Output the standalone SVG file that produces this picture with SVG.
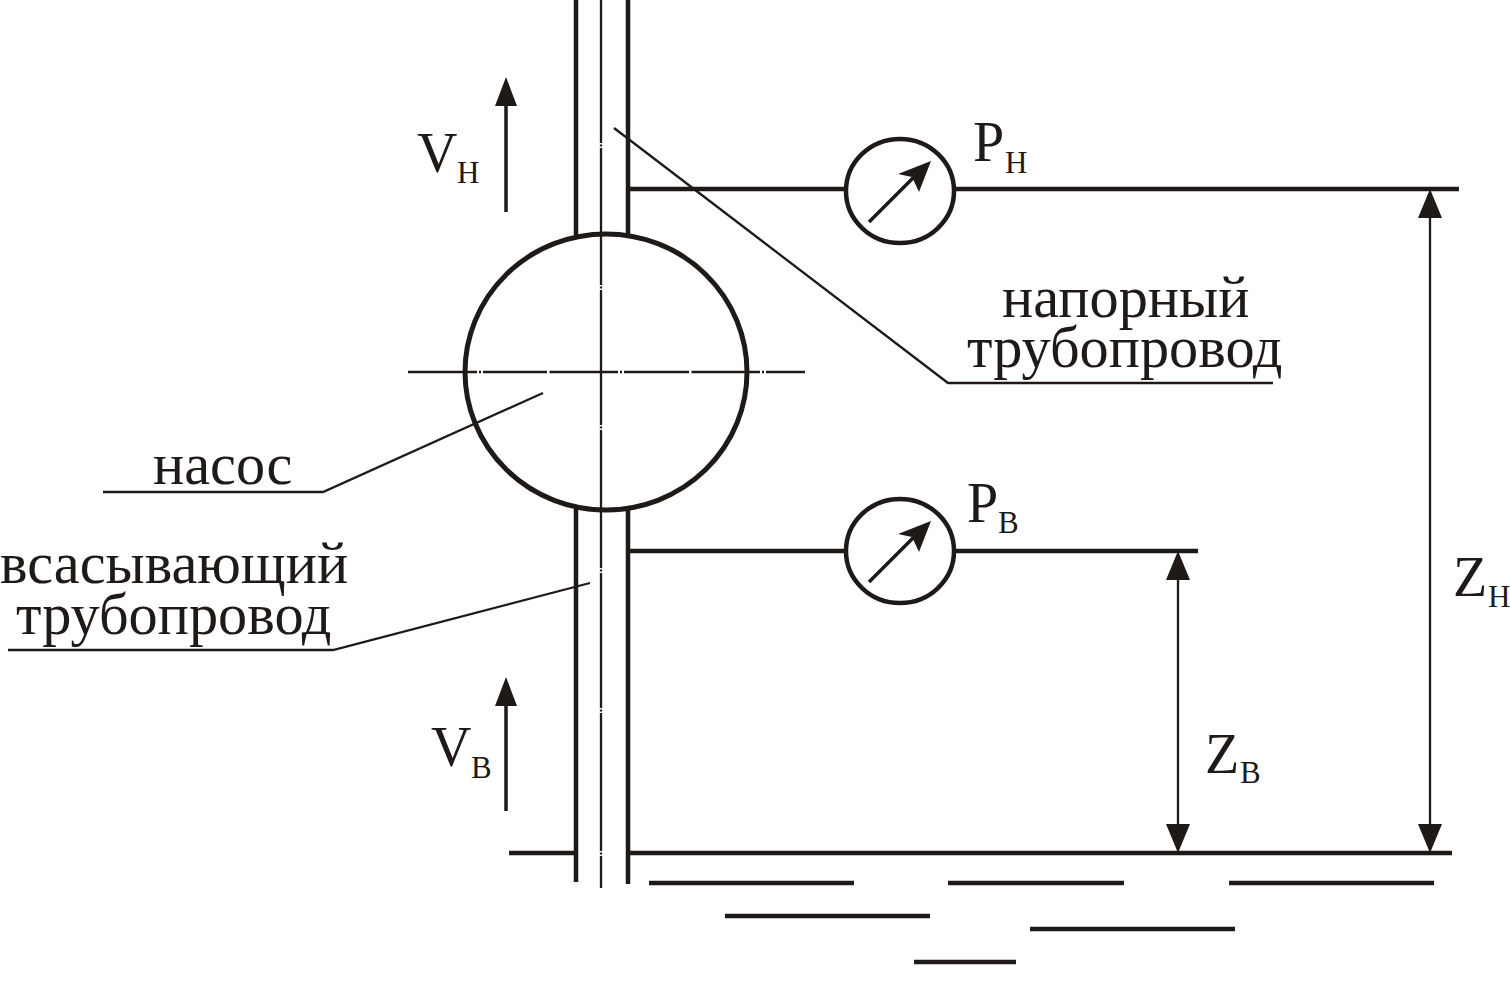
<svg xmlns="http://www.w3.org/2000/svg" width="1510" height="1008" viewBox="0 0 1510 1008">
<style>
text{font-family:"Liberation Serif","Times New Roman",serif;fill:#1f1a17}
.l{font-size:58.300px}.b{font-size:56px}.s{font-size:31px}
.thick{stroke:#1f1a17;stroke-width:4.5;fill:none}
.med{stroke:#1f1a17;stroke-width:3.5;fill:none}
.thin{stroke:#1f1a17;stroke-width:2.300;fill:none}
.ah{fill:#1f1a17;stroke:none}
</style>
<rect width="1510" height="1008" fill="#fff"/>
<g id="connectors">
<path class="thick" d="M576 0V235M628 0V236M576 509V882M628 509V884"/>
<path class="thin" d="M601 0V143M601 144.500V146.500M601 148V285M601 286.500V288.500M601 290V425M601 426.500V428.500M601 430V568M601 569.500V571.500M601 573V708M601 709.500V711.500M601 713V851M601 852.500V854.500M601 856V888"/>
<path class="thin" d="M408 372H477M479 372H481M483 372H547M549.500 372H618M620 372H622M624 372H689M691.500 372H760M762 372H764M766 372H805"/>
<path class="thick" d="M628 189H845M955 189H1459M628 551H845M955 551H1198M509 853H575M629 853H1452"/>
<path class="thick" d="M649 883H854M948 883H1124M1229 883H1434M725 916H930M1030 929H1235M914 962H1016"/>
<path class="thin" d="M614 128L948 383H1273M543 393L323 492H103M590 583L333 650H8"/>
<path class="med" d="M506 212V100"/>
<path class="ah" d="M506 77L517 106H495Z"/>
<path class="med" d="M506 811V700"/>
<path class="ah" d="M506 677L517 706H495Z"/>
<path class="thin" d="M1430 210V832M1178 574V832"/>
<path class="ah" d="M1430 189L1442 218H1418ZM1430 853L1442 824H1418ZM1178 551L1190 580H1166ZM1178 853L1190 824H1166Z"/>
</g>
<g id="pump"><ellipse class="thick" style="stroke-width:5" cx="606" cy="372" rx="141" ry="138"/></g>
<g id="gauge-n">
<ellipse class="thick" cx="900" cy="191" rx="54" ry="52"/>
<path class="med" d="M869 222L915 176"/>
<path class="ah" d="M931 161L919 192L912 177L898 174Z"/>
</g>
<g id="gauge-v">
<ellipse class="thick" cx="900" cy="551" rx="54" ry="52"/>
<path class="med" d="M869 582L915 536"/>
<path class="ah" d="M931 521L919 552L912 537L898 534Z"/>
</g>
<g id="labels">
<text class="b" x="417" y="172">V</text><text class="s" x="457" y="183">Н</text>
<text class="b" x="431" y="766">V</text><text class="s" x="471" y="778">В</text>
<text class="b" x="973" y="161">P</text><text class="s" x="1005" y="173">Н</text>
<text class="b" x="967" y="522">P</text><text class="s" x="998" y="533">В</text>
<text class="b" x="1453" y="596">Z</text><text class="s" x="1488" y="607">Н</text>
<text class="b" x="1205" y="773">Z</text><text class="s" x="1240" y="783">В</text>
<text class="l" x="1002" y="317">напорный</text>
<text class="l" x="967" y="367">трубопровод</text>
<text class="l" x="153" y="484">насос</text>
<text class="l" x="0" y="583">всасывающий</text>
<text class="l" x="16" y="634">трубопровод</text>
</g>
</svg>
